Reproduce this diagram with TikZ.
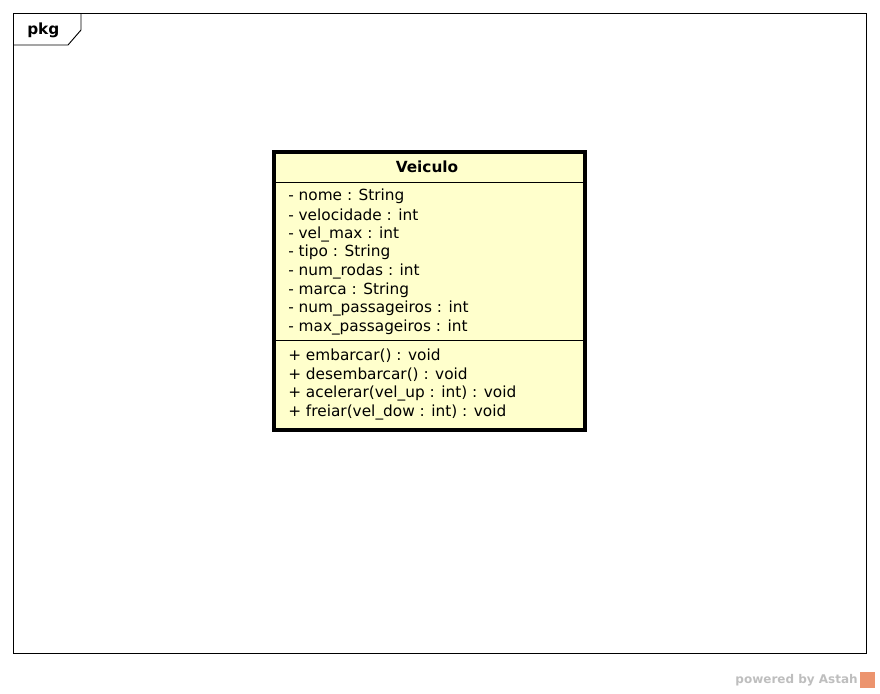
\documentclass[tikz,border=0pt]{standalone}
\usepackage{fontspec}
\setmainfont{DejaVu Sans}
\usepackage{tikz}

\begin{document}
\begin{tikzpicture}[x=0.75pt,y=-0.75pt]
\tikzset{
  member/.style={anchor=west,inner sep=0pt,font=\fontsize{11.5}{13}\selectfont},
  classbox/.style={draw=black,line width=2.3pt,fill=classfill,inner sep=0pt,outer sep=0pt}
}
\definecolor{classfill}{RGB}{255,255,204}
\definecolor{astahgray}{RGB}{190,190,190}
\definecolor{astahorange}{RGB}{236,148,110}
\useasboundingbox (0,0) rectangle (880,693);
% package frame
\draw [black,line width=0.7pt] (13,13) rectangle (866,653);
\draw [black,line width=0.7pt] (13,45) -- (68,45) -- (81,30) -- (81,13);
\node [member,font=\bfseries\fontsize{11.5}{13}\selectfont] (pkg) at (27,30) {pkg};
% class Veiculo
\node [classbox,minimum width=311*0.75pt,minimum height=278*0.75pt,anchor=north west] (veiculo) at (274,152) {};
\draw [black,line width=0.7pt] (274,182) -- (585,182);
\draw [black,line width=0.7pt] (274,340) -- (585,340);
\node [inner sep=0pt,font=\bfseries\fontsize{11.5}{13}\selectfont] (title) at (427,167) {Veiculo};
% attributes
\node [member] (a1) at (288,196) {- nome : String};
\node [member] (a2) at (288,215) {- velocidade : int};
\node [member] (a3) at (288,234) {- vel\_max : int};
\node [member] (a4) at (288,252) {- tipo : String};
\node [member] (a5) at (288,271) {- num\_rodas : int};
\node [member] (a6) at (288,290) {- marca : String};
\node [member] (a7) at (288,308) {- num\_passageiros : int};
\node [member] (a8) at (288,327) {- max\_passageiros : int};
% operations
\node [member] (o1) at (288,356) {+ embarcar() : void};
\node [member] (o2) at (288,375) {+ desembarcar() : void};
\node [member] (o3) at (288,393) {+ acelerar(vel\_up : int) : void};
\node [member] (o4) at (288,412) {+ freiar(vel\_dow : int) : void};
% footer
\node [anchor=east,inner sep=0pt,text=astahgray,font=\bfseries\fontsize{9}{11}\selectfont] (powered) at (858,680) {powered by Astah};
\fill [astahorange] (860,672) rectangle (875,688);
\end{tikzpicture}
\end{document}
